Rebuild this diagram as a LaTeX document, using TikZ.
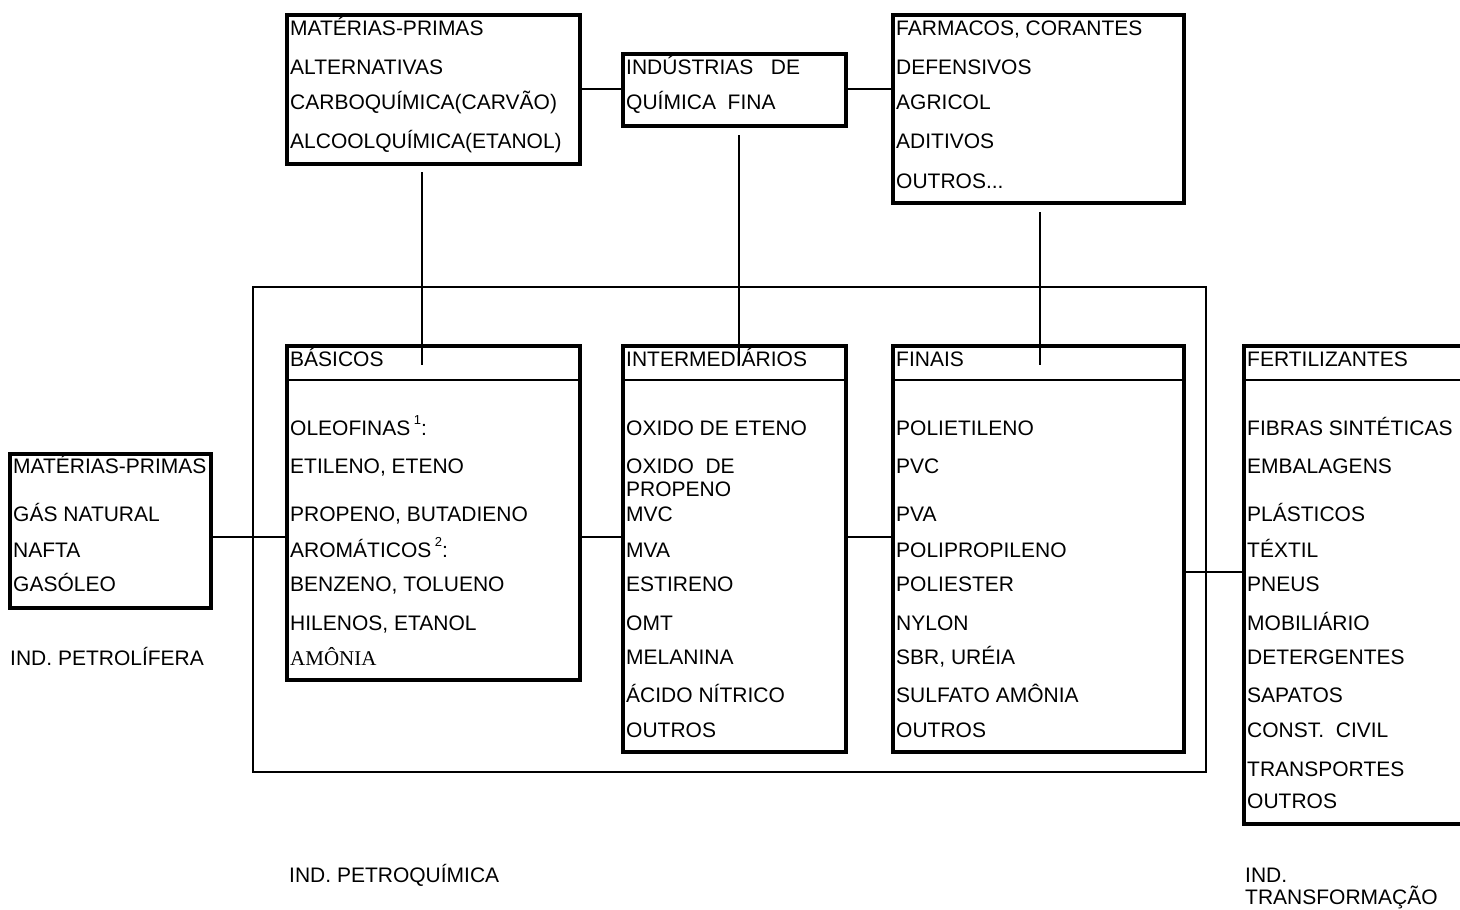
\documentclass[tikz,border=0pt]{standalone}
\usepackage{fontspec}
\setmainfont{Liberation Sans}
\newfontfamily\timesfam{Liberation Serif}
\newcommand\tx[4]{\node[txt] (#1) at (#2,#3) {#4};}
\begin{document}
\begin{tikzpicture}[x=1pt,y=-1pt,
  box/.style={draw,line width=3.5pt,anchor=north west,inner sep=0pt,outer sep=0pt},
  txt/.style={anchor=base west,inner sep=0pt,font=\fontsize{21}{25}\selectfont},
  conn/.style={line width=1.6pt},
  hdr/.style={line width=2pt},
  frame/.style={draw,line width=1.5pt,anchor=north west,inner sep=0pt,outer sep=0pt}]
\useasboundingbox (0,0) rectangle (1460,910);
% boxes
\node[box,minimum width=293pt,minimum height=149pt] (alt) at (287,15) {};
\node[box,minimum width=223pt,minimum height=72pt] (fina) at (623,54) {};
\node[box,minimum width=291pt,minimum height=188pt] (farm) at (893,15) {};
\node[frame,minimum width=953pt,minimum height=485pt] (outer) at (253,287) {};
\node[box,minimum width=293pt,minimum height=334pt] (bas) at (287,346) {};
\node[box,minimum width=223pt,minimum height=406pt] (inter) at (623,346) {};
\node[box,minimum width=291pt,minimum height=406pt] (fin) at (893,346) {};
\node[box,minimum width=218pt,minimum height=478pt] (fert) at (1244,346) {};
\node[box,minimum width=201pt,minimum height=154pt] (mp) at (10,454) {};
% helper coordinates
\coordinate (y380) at (0,380);
\coordinate (y537) at (0,537);
\coordinate (y572) at (0,572);
\coordinate (y89) at (0,89);
\coordinate (va1) at (422,172);
\coordinate (va2) at (422,365);
\coordinate (vb1) at (739,135);
\coordinate (vb2) at (739,365);
\coordinate (vc1) at (1040,212);
\coordinate (vc2) at (1040,365);
% header lines
\draw[hdr] (bas.west |- y380) -- (bas.east |- y380);
\draw[hdr] (inter.west |- y380) -- (inter.east |- y380);
\draw[hdr] (fin.west |- y380) -- (fin.east |- y380);
\draw[hdr] (fert.west |- y380) -- (fert.east |- y380);
% connectors
\draw[conn] (alt.east |- y89) -- (fina.west |- y89);
\draw[conn] (fina.east |- y89) -- (farm.west |- y89);
\draw[conn] (va1) -- (va2);
\draw[conn] (vb1) -- (vb2);
\draw[conn] (vc1) -- (vc2);
\draw[conn] (mp.east |- y537) -- (bas.west |- y537);
\draw[conn] (bas.east |- y537) -- (inter.west |- y537);
\draw[conn] (inter.east |- y537) -- (fin.west |- y537);
\draw[conn] (fin.east |- y572) -- (fert.west |- y572);
% texts: alternatives
\tx{alt1}{290}{35}{MATÉRIAS-PRIMAS}
\tx{alt2}{290}{74}{ALTERNATIVAS}
\tx{alt3}{290}{109}{CARBOQUÍMICA(CARVÃO)}
\tx{alt4}{290}{148}{ALCOOLQUÍMICA(ETANOL)}
% fina
\tx{fina1}{626}{74}{INDÚSTRIAS\ \ \ DE}
\tx{fina2}{626}{109}{QUÍMICA\ \ FINA}
% farm
\tx{farm1}{896}{35}{FARMACOS, CORANTES}
\tx{farm2}{896}{74}{DEFENSIVOS}
\tx{farm3}{896}{109}{AGRICOL}
\tx{farm4}{896}{148}{ADITIVOS}
\tx{farm5}{896}{188}{OUTROS...}
% basicos
\tx{bas0}{290}{366}{BÁSICOS}
\tx{bas1}{290}{435}{OLEOFINAS\,\raisebox{0.5em}{\fontsize{13}{13}\selectfont 1}:}
\tx{bas2}{290}{473}{ETILENO, ETENO}
\tx{bas3}{290}{521}{PROPENO, BUTADIENO}
\tx{bas4}{290}{557}{AROMÁTICOS\,\raisebox{0.5em}{\fontsize{13}{13}\selectfont 2}:}
\tx{bas5}{290}{591}{BENZENO, TOLUENO}
\tx{bas6}{290}{630}{HILENOS, ETANOL}
\tx{bas7}{290}{665}{\timesfam AMÔNIA}
% intermediarios
\tx{int0}{626}{366}{INTERMEDIÁRIOS}
\tx{int1}{626}{435}{OXIDO DE ETENO}
\tx{int2}{626}{473}{OXIDO\ \ DE}
\tx{int3}{626}{496}{PROPENO}
\tx{int4}{626}{521}{MVC}
\tx{int5}{626}{557}{MVA}
\tx{int6}{626}{591}{ESTIRENO}
\tx{int7}{626}{630}{OMT}
\tx{int8}{626}{664}{MELANINA}
\tx{int9}{626}{702}{ÁCIDO NÍTRICO}
\tx{int10}{626}{737}{OUTROS}
% finais
\tx{fin0}{896}{366}{FINAIS}
\tx{fin1}{896}{435}{POLIETILENO}
\tx{fin2}{896}{473}{PVC}
\tx{fin3}{896}{521}{PVA}
\tx{fin4}{896}{557}{POLIPROPILENO}
\tx{fin5}{896}{591}{POLIESTER}
\tx{fin6}{896}{630}{NYLON}
\tx{fin7}{896}{664}{SBR, URÉIA}
\tx{fin8}{896}{702}{SULFATO AMÔNIA}
\tx{fin9}{896}{737}{OUTROS}
% fertilizantes
\tx{fert0}{1247}{366}{FERTILIZANTES}
\tx{fert1}{1247}{435}{FIBRAS SINTÉTICAS}
\tx{fert2}{1247}{473}{EMBALAGENS}
\tx{fert3}{1247}{521}{PLÁSTICOS}
\tx{fert4}{1247}{557}{TÉXTIL}
\tx{fert5}{1247}{591}{PNEUS}
\tx{fert6}{1247}{630}{MOBILIÁRIO}
\tx{fert7}{1247}{664}{DETERGENTES}
\tx{fert8}{1247}{702}{SAPATOS}
\tx{fert9}{1247}{737}{CONST.\ \ CIVIL}
\tx{fert10}{1247}{776}{TRANSPORTES}
\tx{fert11}{1247}{808}{OUTROS}
% materias-primas
\tx{mp1}{13}{473}{MATÉRIAS-PRIMAS}
\tx{mp2}{13}{521}{GÁS NATURAL}
\tx{mp3}{13}{557}{NAFTA}
\tx{mp4}{13}{591}{GASÓLEO}
% captions
\tx{cap1}{10}{665}{IND. PETROLÍFERA}
\tx{cap2}{289}{882}{IND. PETROQUÍMICA}
\tx{cap3}{1245}{882}{IND.}
\tx{cap4}{1245}{904}{TRANSFORMAÇÃO}
\end{tikzpicture}
\end{document}
